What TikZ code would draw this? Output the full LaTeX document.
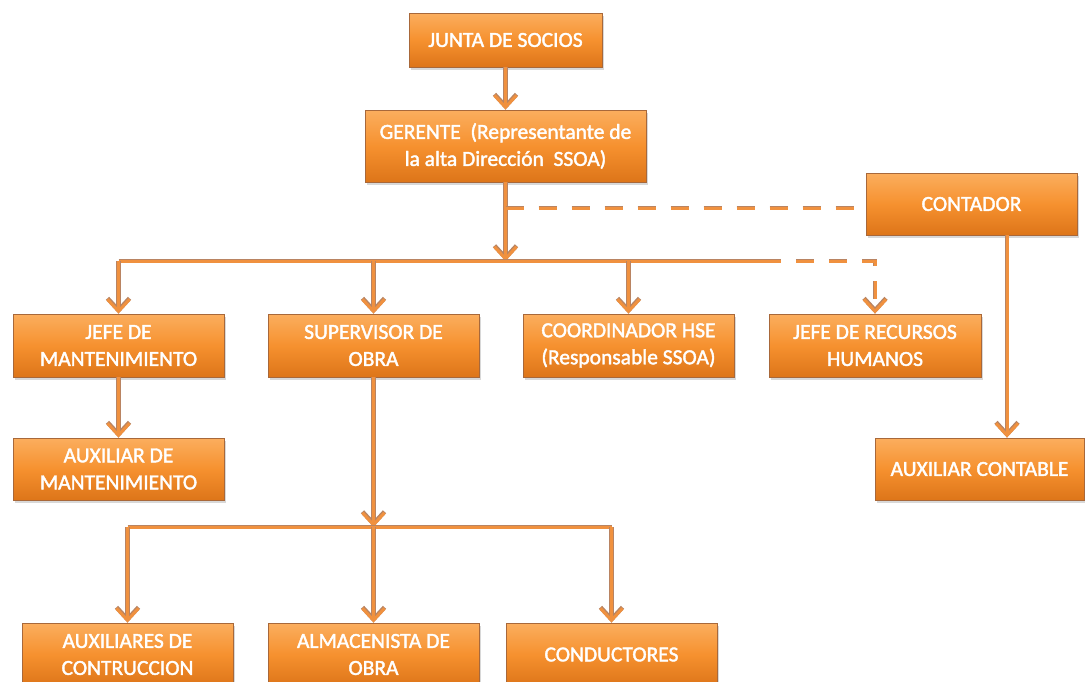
\documentclass[tikz,border=0pt]{standalone}
\usepackage{fontspec}
\setmainfont{Carlito}
\newfontfamily\boxfont[FakeBold=1.8]{Carlito}
\usetikzlibrary{arrows.meta,shadows}
\definecolor{boxtop}{HTML}{FBAE5E}
\definecolor{boxmid}{HTML}{F6912F}
\definecolor{boxbot}{HTML}{DD7519}
\definecolor{boxborder}{HTML}{A8683A}
\definecolor{linecol}{HTML}{F0913F}
\definecolor{lineedge}{HTML}{B98462}
\tikzset{
  orgbox/.style={draw=boxborder, line width=0.9pt, top color=boxtop, bottom color=boxbot, middle color=boxmid,
    text=white, font=\boxfont\fontsize{21.5}{27}\selectfont, align=center, inner sep=0pt,
    drop shadow={opacity=0.3, shadow xshift=2pt, shadow yshift=-3pt}},
  conn/.style={draw=linecol, line width=3pt, line join=miter,
    preaction={draw=lineedge, line width=4.4pt}},
  tip/.style={-{Straight Barb[length=12pt,width=22pt]}},
  dashline/.style={draw=linecol, line width=3pt, dash pattern=on 18pt off 15pt,
    preaction={draw=lineedge, line width=4.4pt, dash pattern=on 18pt off 15pt}}
}
\begin{document}
\begin{tikzpicture}[x=1pt,y=-1pt]
\path[use as bounding box, fill=white] (0,0) rectangle (1085,681);
\clip (0,0) rectangle (1085,681);

% boxes
\node[orgbox, minimum width=193pt, minimum height=54pt] (junta) at (505.5,40) {JUNTA DE SOCIOS};
\node[orgbox, minimum width=281pt, minimum height=72pt] (ger) at (505.5,146) {GERENTE~~(Representante de\\la alta Dirección~~SSOA)};
\node[orgbox, minimum width=211pt, minimum height=62pt] (cont) at (971.5,204) {CONTADOR};
\node[orgbox, minimum width=211pt, minimum height=63pt] (jm) at (118.5,345.5) {JEFE DE\\MANTENIMIENTO};
\node[orgbox, minimum width=211pt, minimum height=63pt] (sup) at (373.5,345.5) {SUPERVISOR DE\\OBRA};
\node[orgbox, minimum width=211pt, minimum height=63pt] (coord) at (628.5,345.5) {COORDINADOR HSE\\(Responsable SSOA)};
\node[orgbox, minimum width=212pt, minimum height=63pt] (rh) at (875,345.5) {JEFE DE RECURSOS\\HUMANOS};
\node[orgbox, minimum width=211pt, minimum height=62pt] (am) at (118.5,469) {AUXILIAR DE\\MANTENIMIENTO};
\node[orgbox, minimum width=209pt, minimum height=62pt] (ac) at (979.5,469) {AUXILIAR CONTABLE};
\node[orgbox, minimum width=211pt, minimum height=63pt] (aux) at (127.5,654.5) {AUXILIARES DE\\CONTRUCCION};
\node[orgbox, minimum width=211pt, minimum height=63pt] (alm) at (373.5,654.5) {ALMACENISTA DE\\OBRA};
\node[orgbox, minimum width=211pt, minimum height=63pt] (cond) at (611.5,654.5) {CONDUCTORES};

% helper coordinates
\coordinate (bus) at (0,261);
\coordinate (dstart) at (763,261);
\coordinate (dline) at (0,208);
\coordinate (bus2) at (0,527);
\coordinate (cx) at (1007,0);

% connectors
\draw[conn,tip] (junta) -- (ger);
\draw[conn,tip] (ger.south) -- (ger.south |- bus);
\draw[dashline] (ger.south |- dline) -- (cont.west |- dline);
\draw[conn] (jm.north |- bus) -- (dstart);
\draw[conn,tip] (jm.north |- bus) -- (jm.north);
\draw[conn,tip] (sup.north |- bus) -- (sup.north);
\draw[conn,tip] (coord.north |- bus) -- (coord.north);
\draw[dashline,tip] (dstart) -- (dstart -| rh.north) -- (rh.north);
\draw[conn,tip] (jm) -- (am);
\draw[conn,tip] (cont.south -| cx) -- (ac.north -| cx);
\draw[conn,tip] (sup.south) -- (sup.south |- bus2);
\draw[conn] (aux.north |- bus2) -- (cond.north |- bus2);
\draw[conn,tip] (aux.north |- bus2) -- (aux.north);
\draw[conn,tip] (alm.north |- bus2) -- (alm.north);
\draw[conn,tip] (cond.north |- bus2) -- (cond.north);
\end{tikzpicture}
\end{document}
